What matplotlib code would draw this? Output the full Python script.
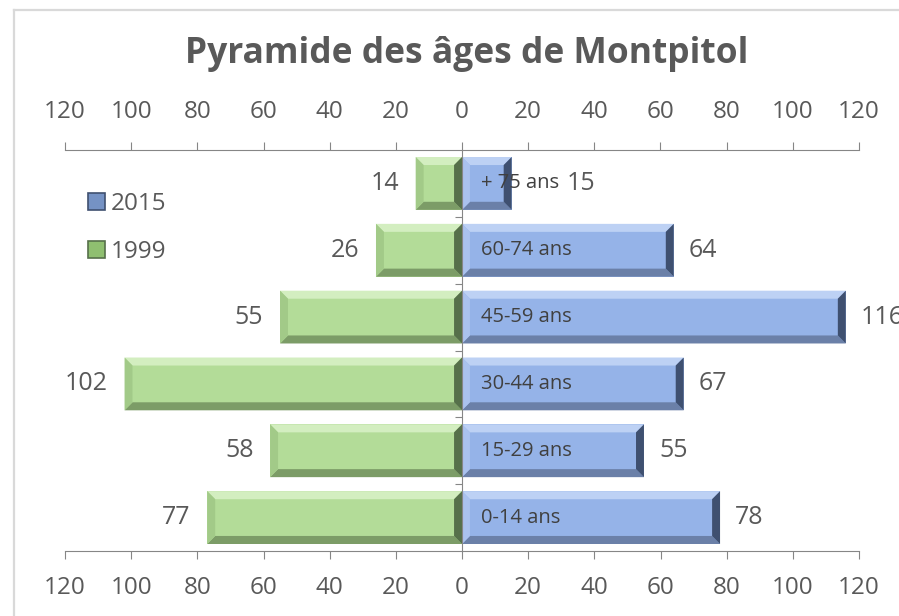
import matplotlib
matplotlib.use('Agg')
import matplotlib.pyplot as plt
from matplotlib.patches import Polygon, Rectangle
from matplotlib.lines import Line2D
from matplotlib.ticker import FixedLocator, FuncFormatter

# donnees (du bas vers le haut)
categories = ["0-14 ans", "15-29 ans", "30-44 ans", "45-59 ans", "60-74 ans", "+ 75 ans"]
pop_1999 = [77, 58, 102, 55, 26, 14]
pop_2015 = [78, 55, 67, 116, 64, 15]
ticks = [-120, -100, -80, -60, -40, -20, 0, 20, 40, 60, 80, 100, 120]

plt.rcParams['font.family'] = ['Open Sans', 'DejaVu Sans']
TXT = '#595959'
AXC = '#868686'

# couleurs : fond, haut, bas, cote exterieur, cote interieur
GREEN = dict(face='#b3dc98', top='#d3eec0', bottom='#7c9c67', outer='#a2ca88', inner='#56704a')
BLUE = dict(face='#95b3e8', top='#bdd1f4', bottom='#6b80a8', outer='#3f5070', inner='#aac2ee')

fig = plt.figure(figsize=(8.99, 6.16), dpi=100)
ax = fig.add_axes([65/899, 65/616, 794/899, 401/616])

ypos = list(range(len(categories)))
b_old = ax.barh(ypos, [-v for v in pop_1999], height=0.79, color=GREEN['face'], zorder=2)
b_new = ax.barh(ypos, pop_2015, height=0.79, color=BLUE['face'], zorder=2)

def bevel(bars, col, left_is_outer):
    bx, by = 2.4, 0.12
    for r in bars:
        x0, w = r.get_x(), r.get_width()
        xl, xr = min(x0, x0 + w), max(x0, x0 + w)
        y0, y1 = r.get_y(), r.get_y() + r.get_height()
        top = [(xl, y1), (xr, y1), (xr - bx, y1 - by), (xl + bx, y1 - by)]
        bot = [(xl, y0), (xr, y0), (xr - bx, y0 + by), (xl + bx, y0 + by)]
        lft = [(xl, y0), (xl, y1), (xl + bx, y1 - by), (xl + bx, y0 + by)]
        rgt = [(xr, y0), (xr, y1), (xr - bx, y1 - by), (xr - bx, y0 + by)]
        lc = col['outer'] if left_is_outer else col['inner']
        rc = col['inner'] if left_is_outer else col['outer']
        for pts, c in [(top, col['top']), (bot, col['bottom']), (lft, lc), (rgt, rc)]:
            ax.add_patch(Polygon(pts, closed=True, facecolor=c, edgecolor='none', zorder=3))

bevel(b_old, GREEN, True)
bevel(b_new, BLUE, False)

ax.set_xlim(-120, 120)
ax.set_ylim(-0.5, len(categories) - 0.5)

fmt = FuncFormatter(lambda v, p: f"{abs(v):.0f}")
ax.xaxis.set_major_locator(FixedLocator(ticks))
ax.xaxis.set_major_formatter(fmt)
ax.tick_params(axis='x', direction='out', length=6, color=AXC, labelcolor=TXT,
               labelsize=17.5, pad=12)

sec = ax.secondary_xaxis('top')
sec.xaxis.set_major_locator(FixedLocator(ticks))
sec.xaxis.set_major_formatter(fmt)
sec.tick_params(axis='x', direction='out', length=6, color=AXC, labelcolor=TXT,
                labelsize=17.5, pad=12.5)
sec.spines['top'].set_color(AXC)

ax.spines['right'].set_visible(False)
ax.spines['top'].set_visible(False)
ax.spines['bottom'].set_color(AXC)
ax.spines['left'].set_position(('data', 0))
ax.spines['left'].set_color(AXC)
ax.spines['left'].set_zorder(4)
ax.set_yticks([i + 0.5 for i in range(len(categories) - 1)])
ax.set_yticklabels([])
ax.tick_params(axis='y', direction='out', length=5, color=AXC)

# etiquettes
fig.canvas.draw()
rend = fig.canvas.get_renderer()
for i, cat in enumerate(categories):
    ct = ax.annotate(cat, xy=(0, i), xytext=(14, 0), textcoords='offset points',
                     ha='left', va='center', fontsize=14.5, color='#404040', zorder=5)
    ax.annotate(str(pop_1999[i]), xy=(-pop_1999[i], i), xytext=(-12, 0),
                textcoords='offset points', ha='right', va='center',
                fontsize=18, color=TXT, annotation_clip=False)
    bar_end = ax.transData.transform((pop_2015[i], i))[0]
    cat_end = ct.get_window_extent(rend).x1
    if cat_end + 5 > bar_end:
        ax.annotate(str(pop_2015[i]), xy=(1, 0.5), xycoords=ct, xytext=(5, 0),
                    textcoords='offset points', ha='left', va='center',
                    fontsize=18, color=TXT, annotation_clip=False)
    else:
        ax.annotate(str(pop_2015[i]), xy=(pop_2015[i], i), xytext=(11, 0),
                    textcoords='offset points', ha='left', va='center',
                    fontsize=18, color=TXT, annotation_clip=False)

# legende
handles = [Rectangle((0, 0), 1, 1, facecolor='#7592c4', edgecolor='#3f5070', linewidth=1.2),
           Rectangle((0, 0), 1, 1, facecolor='#8fbf70', edgecolor='#56704a', linewidth=1.2)]
fig.legend(handles, ['2015', '1999'], loc='upper left', bbox_to_anchor=(88/899, 1 - 192/616),
           frameon=False, fontsize=17.5, labelcolor=TXT, handlelength=0.7, handleheight=0.7,
           handletextpad=0.25, labelspacing=1.0, borderpad=0, borderaxespad=0)

fig.text(467/899, 1 - 54/616, "Pyramide des âges de Montpitol", ha='center', va='center',
         fontsize=25.5, fontweight='bold', color=TXT)

# cadre du graphique
fig.add_artist(Line2D([13.5/899, 13.5/899], [0, 1 - 9.5/616], transform=fig.transFigure,
                      color='#d9d9d9', linewidth=1.6))
fig.add_artist(Line2D([13.5/899, 1], [1 - 9.5/616, 1 - 9.5/616], transform=fig.transFigure,
                      color='#d9d9d9', linewidth=1.6))

fig.savefig('out.png', dpi=100)
